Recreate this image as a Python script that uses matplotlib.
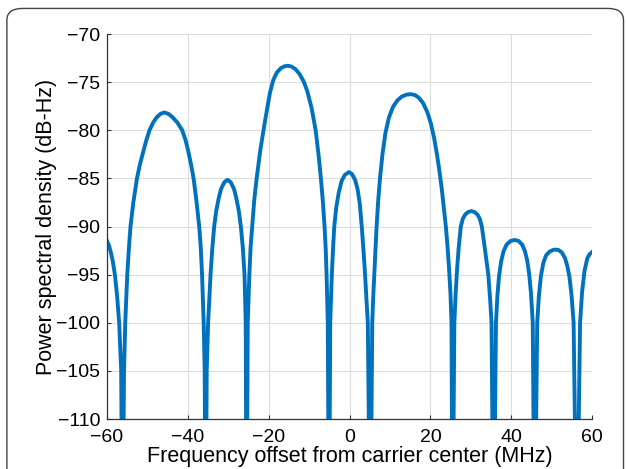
import matplotlib
matplotlib.use('Agg')
import matplotlib.pyplot as plt
from matplotlib.patches import FancyBboxPatch

plt.rcParams['font.family'] = ['Liberation Sans', 'DejaVu Sans']

# values (MHz, dB-Hz); nulls go below the axis floor
freq = [-60.0, -59.5, -59.0, -58.5, -58.0, -57.5, -57.0, -56.5, -56.2,
        # lobe around -46 MHz
        -55.8, -55.5, -55.0, -54.6, -54.2, -53.5, -52.6, -51.9, -51.2, -50.4,
        -49.5, -48.6, -47.7, -46.8, -45.8, -44.8, -43.8, -42.6, -41.4, -40.6,
        -39.9, -39.2, -38.6, -37.9, -37.2, -36.8, -36.5, -36.1, -35.85, -35.6,
        # lobe around -30 MHz
        -35.35, -35.0, -34.4, -33.95, -33.5, -33.0, -32.4, -31.8, -31.0, -30.2,
        -29.4, -28.6, -28.0, -27.4, -26.9, -26.4, -26.0, -25.7, -25.5,
        # lobe around -15 MHz
        -25.2, -24.8, -24.5, -24.1, -23.6, -23.0, -22.1, -21.3, -20.5, -19.7,
        -18.9, -18.0, -17.0, -16.1, -15.3, -14.4, -13.4, -12.4, -11.4, -10.5,
        -9.4, -8.4, -7.7, -7.1, -6.6, -6.2, -5.9, -5.7, -5.4, -5.1,
        # lobe around 0 MHz
        -4.8, -4.4, -4.1, -3.8, -3.3, -2.7, -2.0, -1.2, -0.2, 0.6,
        1.4, 2.0, 2.5, 3.0, 3.4, 3.75, 4.1, 4.5, 5.1,
        # lobe around 15 MHz
        5.6, 5.85, 6.1, 6.35, 6.65, 7.05, 7.55, 8.15, 8.85, 9.7,
        10.7, 11.8, 12.9, 14.1, 15.2, 16.2, 17.2, 18.2, 19.2, 20.1,
        20.9, 21.6, 22.2, 22.8, 23.3, 23.8, 24.2, 24.6, 24.95, 25.2, 25.45,
        # lobe around 30 MHz
        25.9, 26.25, 26.6, 27.0, 27.5, 28.0, 28.6, 29.3, 30.1, 30.9,
        31.6, 32.2, 32.7, 33.2, 33.8, 34.3, 34.75, 35.1, 35.6,
        # lobe around 41 MHz
        36.2, 36.55, 36.95, 37.45, 38.05, 38.8, 39.8, 40.8, 41.8, 42.7,
        43.4, 43.95, 44.4, 44.85, 45.3, 45.75,
        # lobe around 51 MHz
        46.4, 46.8, 47.3, 47.9, 48.6, 49.5, 50.4, 51.0, 51.7, 52.5,
        53.3, 53.9, 54.4, 54.9, 55.4, 56.2,
        # edge
        57.0, 57.5, 58.1, 58.8, 59.4, 60.0]
psd = [-91.5, -92.0, -92.8, -93.8, -95.2, -97.3, -100.0, -105.0, -125.0,
       -105.0, -100.0, -95.0, -92.3, -90.0, -87.5, -85.0, -83.6, -82.5, -81.2,
       -80.0, -79.2, -78.65, -78.3, -78.15, -78.3, -78.65, -79.2, -80.0, -81.0,
       -82.2, -83.6, -85.0, -87.3, -90.0, -92.3, -95.0, -100.0, -105.0, -125.0,
       -105.0, -100.0, -95.0, -92.2, -90.0, -88.4, -87.1, -86.1, -85.4, -85.15,
       -85.4, -86.1, -87.1, -88.4, -90.0, -92.3, -95.0, -100.0, -125.0,
       -100.0, -95.0, -92.2, -90.0, -87.3, -85.0, -82.1, -80.0, -78.0, -76.1,
       -74.8, -74.0, -73.55, -73.35, -73.3, -73.38, -73.65, -74.15, -74.9, -75.9,
       -77.7, -80.0, -82.5, -85.0, -87.5, -90.0, -92.5, -95.0, -100.0, -125.0,
       -100.0, -95.0, -92.3, -90.0, -88.0, -86.5, -85.3, -84.65, -84.35, -84.55,
       -85.2, -86.2, -87.6, -90.0, -92.3, -94.5, -97.0, -100.0, -125.0,
       -100.0, -97.2, -95.0, -92.8, -90.2, -87.4, -84.8, -82.4, -80.3, -78.7,
       -77.6, -76.9, -76.5, -76.3, -76.25, -76.35, -76.65, -77.2, -78.1, -79.3,
       -80.8, -82.5, -84.2, -86.1, -88.0, -90.0, -92.0, -94.4, -97.0, -100.0, -125.0,
       -100.0, -96.8, -94.3, -92.1, -90.0, -89.2, -88.75, -88.5, -88.4, -88.5,
       -88.75, -89.2, -90.0, -91.5, -93.4, -95.0, -97.5, -100.0, -125.0,
       -100.0, -97.2, -95.2, -93.7, -92.6, -91.9, -91.5, -91.4, -91.5, -91.9,
       -92.6, -93.6, -94.9, -96.9, -100.0, -125.0,
       -100.0, -97.3, -95.2, -93.8, -93.0, -92.6, -92.42, -92.4, -92.45, -92.7,
       -93.3, -94.2, -95.3, -97.2, -100.0, -125.0,
       -100.0, -96.8, -94.6, -93.3, -92.85, -92.65]

xticks = [-60, -40, -20, 0, 20, 40, 60]
yticks = [-110, -105, -100, -95, -90, -85, -80, -75, -70]

fig = plt.figure(figsize=(6.26, 4.69), dpi=100)
fig.patches.append(FancyBboxPatch((0.011, -0.1), 0.985, 1.082,
                                  boxstyle='round,pad=0,rounding_size=0.025',
                                  transform=fig.transFigure, fill=False,
                                  edgecolor='#444444', linewidth=1.0))

ax = fig.add_axes([0.171, 0.1066, 0.775, 0.8209])
ax.plot(freq, psd, color='#0072BD', linewidth=2.8, solid_joinstyle='round')
ax.set_xlim(-60, 60)
ax.set_ylim(-110, -70)
ax.set_xticks(xticks)
ax.set_yticks(yticks)
ax.set_xticklabels([str(v).replace('-', '\u2212') for v in xticks])
ax.set_yticklabels([str(v).replace('-', '\u2212') for v in yticks])
ax.grid(True, color='#dcdcdc', linewidth=0.8)
ax.set_axisbelow(True)
for s in ['top', 'right']:
    ax.spines[s].set_visible(False)
for s in ['left', 'bottom']:
    ax.spines[s].set_color('#333333')
    ax.spines[s].set_linewidth(0.9)
ax.tick_params(direction='in', length=3, width=0.8, color='#333333',
               labelsize=14, labelcolor='black')
ax.tick_params(axis='y', pad=5)
ax.tick_params(axis='x', pad=7)
ax.set_xlabel('Frequency offset from carrier center (MHz)', fontsize=15.5, labelpad=0)
ax.set_ylabel('Power spectral density (dB-Hz)', fontsize=15.5, labelpad=-1)

fig.savefig('out.png', dpi=100)
